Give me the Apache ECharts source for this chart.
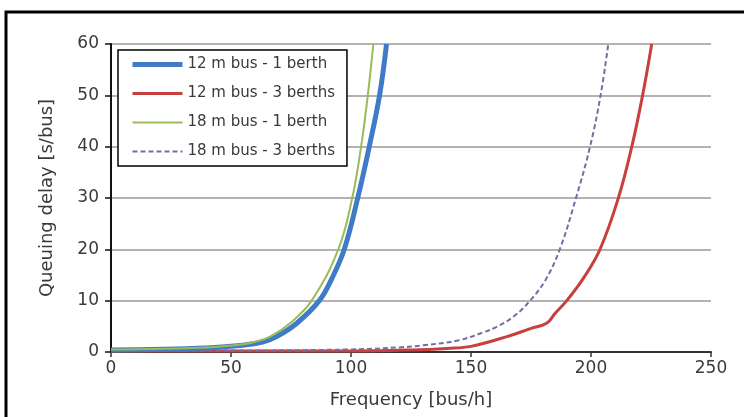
<!DOCTYPE html>
<html>
<head>
<meta charset="utf-8">
<script src="https://cdn.jsdelivr.net/npm/echarts@6/dist/echarts.min.js"></script>
<style>
  html, body { margin: 0; padding: 0; background: #fff; }
  #chart { width: 744px; height: 417px; }
</style>
</head>
<body>
<div id="chart"></div>
<script>
// Queuing delay [s/bus] versus bus frequency [bus/h]
const seriesNames = ['12 m bus - 1 berth', '12 m bus - 3 berths', '18 m bus - 1 berth', '18 m bus - 3 berths'];

// [frequency, delay] pairs for each configuration
const bus12Berth1 = [[0,0.4],[40,0.8],[55,1.3],[63.5,2],[69,3],[77.4,5.6],[86.8,10],[92,14.3],[97.2,20],[102.8,30],[107.6,40],[111.9,50],[114.8,60]];
const bus12Berth3 = [[0,0.2],[100,0.2],[125,0.4],[140,0.7],[150,1.1],[165,3],[175,4.6],[181.5,5.6],[185,7.5],[189.9,10],[197,14.5],[203.75,20],[211.4,30],[217,40],[221.5,50],[225.3,60]];
const bus18Berth1 = [[0,0.5],[40,0.9],[55,1.5],[60,2.0],[66.3,3],[74.6,5.6],[83.6,10],[94.7,20],[100.5,30],[104.2,40],[107,50],[109.3,60]];
const bus18Berth3 = [[0,0.3],[50,0.3],[100,0.5],[120,0.9],[130,1.3],[145,2.3],[155,3.8],[160.7,4.9],[168,7],[174.6,10],[181,14],[187,20],[193.75,30],[199.6,40],[204,50],[207.2,60]];

const xTicks = { min: 0, max: 250, interval: 50 };
const yTicks = { min: 0, max: 60, interval: 10 };

const FONT = 'DejaVu Sans';
const TEXT = '#3a3a3a';
const styles = [
  { color: '#3F7BC6', width: 5, type: 'solid' },
  { color: '#C8403D', width: 3, type: 'solid' },
  { color: '#9BBB59', width: 2, type: 'solid' },
  { color: '#7A6AA6', width: 2, type: [5, 3] }
];
const chart = echarts.init(document.getElementById('chart'), null, { renderer: 'canvas' });

function lineSeries(i, data, z) {
  const s = styles[i];
  return {
    name: seriesNames[i], type: 'line', data, z,
    smooth: 0.4, showSymbol: false, symbol: 'none',
    lineStyle: { color: s.color, width: s.width, type: s.type },
    itemStyle: { color: s.color }
  };
}

chart.setOption({
  backgroundColor: '#fff',
  animation: false,
  textStyle: { fontFamily: FONT },
  graphic: [{
    type: 'rect',
    shape: { x: 6, y: 12, width: 780, height: 440 },
    style: { fill: 'none', stroke: '#000', lineWidth: 3 },
    silent: true
  }],
  grid: { left: 111, right: 33, top: 44, bottom: 65 },
  legend: {
    orient: 'vertical',
    left: 118, top: 50,
    padding: [7, 12, 7, 12],
    itemGap: 14,
    itemWidth: 50,
    itemHeight: 14,
    borderColor: '#000',
    borderWidth: 1.5,
    backgroundColor: '#fff',
    itemStyle: { opacity: 0 },
    textStyle: { fontFamily: FONT, fontSize: 15, color: TEXT },
    data: seriesNames.map((name, i) => ({
      name,
      lineStyle: { color: styles[i].color, width: styles[i].width, type: styles[i].type }
    }))
  },
  xAxis: {
    type: 'value',
    min: xTicks.min, max: xTicks.max, interval: xTicks.interval,
    name: 'Frequency [bus/h]',
    nameLocation: 'middle',
    nameGap: 39,
    nameTextStyle: { fontFamily: FONT, fontSize: 18, color: TEXT },
    axisLine: { show: true, lineStyle: { color: '#333', width: 2 } },
    axisTick: { show: true, length: 5, lineStyle: { color: '#333', width: 1.5 } },
    axisLabel: { fontFamily: FONT, fontSize: 17, color: TEXT, margin: 8 },
    splitLine: { show: false }
  },
  yAxis: {
    type: 'value',
    min: yTicks.min, max: yTicks.max, interval: yTicks.interval,
    name: 'Queuing delay [s/bus]',
    nameLocation: 'middle',
    nameGap: 55,
    nameTextStyle: { fontFamily: FONT, fontSize: 18, color: TEXT },
    axisLine: { show: true, lineStyle: { color: '#111', width: 2 } },
    axisTick: { show: true, length: 6, lineStyle: { color: '#111', width: 1.5 } },
    axisLabel: { fontFamily: FONT, fontSize: 17, color: TEXT, margin: 12 },
    splitLine: { show: true, lineStyle: { color: '#999', width: 1.5 } }
  },
  series: [
    lineSeries(1, bus12Berth3, 2),
    lineSeries(3, bus18Berth3, 3),
    lineSeries(0, bus12Berth1, 4),
    lineSeries(2, bus18Berth1, 5)
  ]
});
</script>
</body>
</html>
